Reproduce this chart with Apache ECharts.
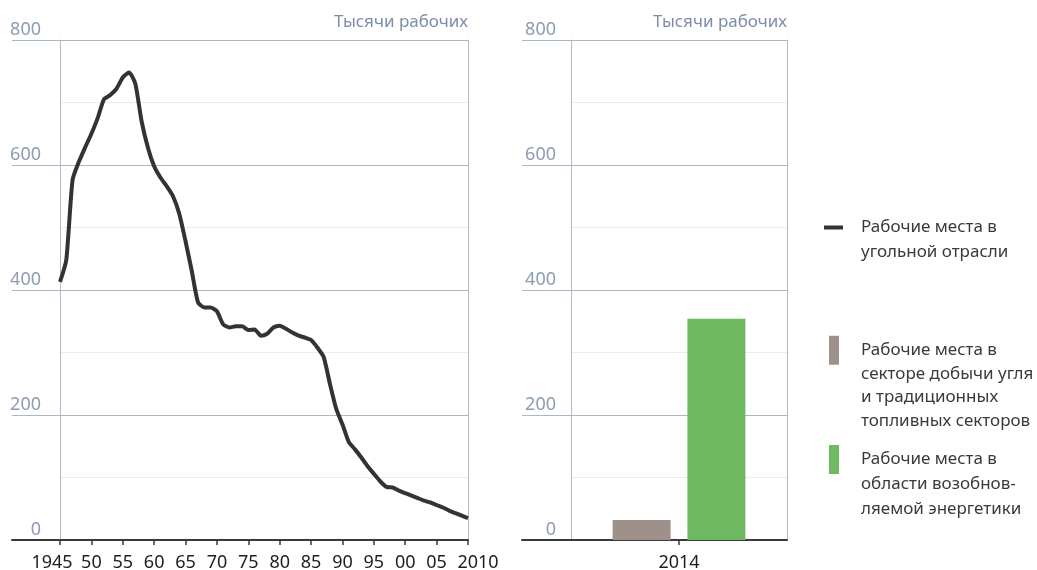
<!DOCTYPE html>
<html>
<head>
<meta charset="utf-8">
<script src="https://cdn.jsdelivr.net/npm/echarts@6/dist/echarts.min.js"></script>
<style>html,body{margin:0;padding:0;background:#fff}#c{width:1037px;height:570px}</style>
</head>
<body>
<div id="c"></div>
<script>
// ---- data ----
const years = [1945,1946,1947,1948,1949,1950,1951,1952,1953,1954,1955,1956,1957,1958,1959,1960,1961,1962,1963,1964,1965,1966,1967,1968,1969,1970,1971,1972,1973,1974,1975,1976,1977,1978,1979,1980,1981,1982,1983,1984,1985,1986,1987,1988,1989,1990,1991,1992,1993,1994,1995,1996,1997,1998,1999,2000,2001,2002,2003,2004,2005,2006,2007,2008,2009,2010];
const coalJobs = [413,448,576,605,628,650,675,705,712,722,740,748,730,670,628,598,580,566,550,522,478,430,380,372,372,366,345,340,342,342,336,337,327,330,340,343,338,332,327,324,320,308,293,250,210,185,157,145,132,118,106,94,85,84,79,75,71,67,63,60,56,52,47,43,39,35];
const barCategories = ['2014'];
const fossilJobs = [32];
const renewJobs = [354];
const yTicks = [0,200,400,600,800];
const axisTitle = 'Тысячи рабочих';
const legendCoal = ['Рабочие места в','угольной отрасли'];
const legendFossil = ['Рабочие места в','секторе добычи угля','и традиционных','топливных секторов'];
const legendRenew = ['Рабочие места в','области возобнов-','ляемой энергетики'];

const FONT = 'Noto Sans';
const MAJOR = '#a9b7c7';
const MINOR = '#e9edf0';
const VAX = '#b3bcc7';
const LBL = '#8c9cb3';
const DARK = '#3a3a3a';

const chart = echarts.init(document.getElementById('c'));
const coalData = years.map((y,i)=>[y, coalJobs[i]]);
// first text line aligned with the legend icon: prepend (n-1) empty lines
const legendText = lines => '\n'.repeat(lines.length-1) + lines.join('\n');

function overlayY(grid){
  return {gridIndex:grid, type:'value', min:0, max:800, interval:200, position:'right',
    axisLine:{show:true, onZero:false, lineStyle:{color:VAX, width:1}}, axisTick:{show:false}, axisLabel:{show:false},
    splitLine:{show:true, lineStyle:{color:MAJOR, width:1}}};
}
function dataY(grid, margin){
  return {gridIndex:grid, type:'value', min:0, max:800, interval:200, position:'left',
    axisLine:{show:true, onZero:false, lineStyle:{color:VAX, width:1}}, axisTick:{show:false},
    axisLabel:{show:true, margin:margin, color:LBL, fontSize:18, fontFamily:FONT, verticalAlign:'bottom', padding:[0,0,1,0],
      customValues: yTicks},
    splitLine:{show:false},
    minorTick:{show:false, splitNumber:2},
    minorSplitLine:{show:true, lineStyle:{color:MINOR, width:1}}};
}
function overlayX(grid){
  return {gridIndex:grid, type:'value', min:0, max:1, axisLine:{show:true, onZero:false, lineStyle:{color:DARK, width:2}},
    axisTick:{show:false}, axisLabel:{show:false}, splitLine:{show:false}};
}
function legendItem(name, lines, left, top, w, h, padLeft, lh){
  return {data:[name], left:left, top:top, padding:0, orient:'vertical', selectedMode:false, icon:'rect',
    itemWidth:w, itemHeight:h, formatter:()=>legendText(lines),
    textStyle:{fontSize:17, color:'#3a3a3a', lineHeight:lh, fontFamily:FONT, padding:[0,0,0,padLeft]}};
}
function grid(left, right){
  return {left:left, right:right, top:40, bottom:30, containLabel:false, outerBoundsMode:'none'};
}

chart.setOption({
  animation:false,
  textStyle:{fontFamily:FONT},
  title:[
    {text:axisTitle, right:569, top:14, padding:0, textStyle:{color:'#7b8ea8', fontSize:17, fontWeight:'normal', fontFamily:FONT}},
    {text:axisTitle, right:250, top:14, padding:0, textStyle:{color:'#7b8ea8', fontSize:17, fontWeight:'normal', fontFamily:FONT}}
  ],
  grid:[ grid(12,569), grid(60,569), grid(522,250), grid(571,250) ],
  xAxis:[
    overlayX(0),
    {gridIndex:1, type:'value', min:1945, max:2010, interval:5,
      axisLine:{show:false}, splitLine:{show:false},
      axisTick:{show:true, length:5, lineStyle:{color:DARK, width:1.5}},
      axisLabel:{show:true, margin:14, color:'#1e1e1e', fontSize:18, fontFamily:FONT, showMinLabel:true, showMaxLabel:true,
        formatter:function(v){ if(v===1945) return '{l|1945}'; if(v===2010) return '{r|2010}'; return String(v).slice(2); },
        rich:{l:{padding:[0,16,0,0], fontSize:18, color:'#1e1e1e', fontFamily:FONT}, r:{padding:[0,0,0,20], fontSize:18, color:'#1e1e1e', fontFamily:FONT}}}},
    overlayX(2),
    {gridIndex:3, type:'category', data:barCategories,
      axisLine:{show:false}, splitLine:{show:false},
      axisTick:{show:true, alignWithLabel:true, length:5, lineStyle:{color:DARK, width:1.5}},
      axisLabel:{show:true, margin:14, color:'#1e1e1e', fontSize:18, fontFamily:FONT}}
  ],
  yAxis:[
    overlayY(0), dataY(1, 19), overlayY(2), dataY(3, 15)
  ],
  legend:[
    legendItem('coal', legendCoal, 824, 190, 19, 4, 13, 25),
    legendItem('fossil', legendFossil, 829, 268, 10, 29, 17, 23.5),
    legendItem('renew', legendRenew, 829, 397, 10, 29, 17, 25)
  ],
  series:[
    {name:'coal', type:'line', xAxisIndex:1, yAxisIndex:1, data:coalData, showSymbol:false, smooth:0.2,
      lineStyle:{color:'#333333', width:4}, itemStyle:{color:'#333333'}, z:5},
    {name:'fossil', type:'bar', xAxisIndex:3, yAxisIndex:3, data:fossilJobs, barWidth:58, barGap:'29%',
      itemStyle:{color:'#9e9189'}},
    {name:'renew', type:'bar', xAxisIndex:3, yAxisIndex:3, data:renewJobs, barWidth:58, barGap:'29%',
      itemStyle:{color:'#6fb962'}}
  ]
});
</script>
</body>
</html>
